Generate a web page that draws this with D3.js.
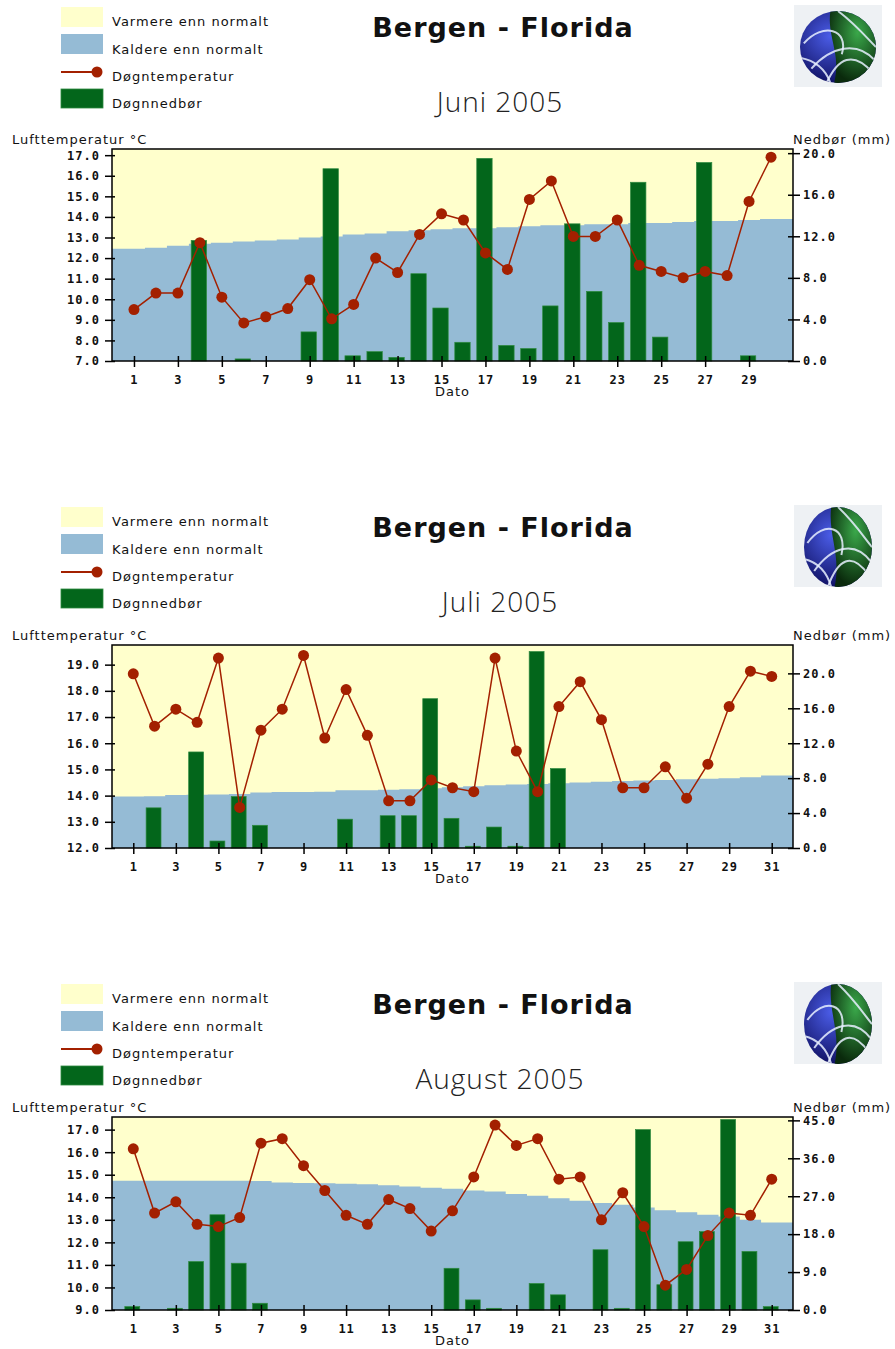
<!DOCTYPE html>
<meta charset="utf-8">
<style>
body { margin: 0; background: #fff; }
svg { display: block; }
.legend text { font-family: "DejaVu Sans", sans-serif; font-size: 13px; fill: #111; }
.axis text { font-family: "DejaVu Sans Mono", monospace; font-weight: bold; font-size: 12px; fill: #111; letter-spacing: 1px; }
.axis line { stroke: #000; stroke-width: 1.5px; }
.label { font-family: "DejaVu Sans", sans-serif; font-size: 13px; fill: #111; letter-spacing: 1px; }
</style>
<svg width="895" height="1349"></svg>
<script src="https://d3js.org/d3.v7.min.js"></script>
<script>

// Døgnverdier lest av bildet (dag 1..n)
var juniTemp = [9.5,10.3,10.3,12.75,10.1,8.85,9.15,9.55,10.95,9.05,9.75,12.0,11.3,13.15,14.15,
                13.85,12.25,11.45,14.85,15.75,13.05,13.05,13.85,11.65,11.35,11.05,11.35,11.15,14.75,16.9];
var juniNedbor = [0,0,0,11.6,0,0.2,0,0,2.8,18.5,0.5,0.9,0.35,8.4,5.1,
                  1.8,19.5,1.5,1.2,5.3,13.2,6.7,3.7,17.2,2.3,0,19.1,0,0.5,0];
var juniNormal = [12.45,12.5,12.6,12.7,12.75,12.8,12.85,12.9,13.0,13.05,13.15,13.2,13.3,13.35,13.4,
                  13.45,13.45,13.5,13.55,13.6,13.6,13.65,13.65,13.7,13.7,13.75,13.8,13.8,13.85,13.9];

var juliTemp = [18.65,16.65,17.3,16.8,19.25,13.55,16.5,17.3,19.35,16.2,18.05,16.3,13.8,13.8,14.6,14.3,
                14.15,19.25,15.7,14.15,17.4,18.35,16.9,14.3,14.3,15.1,13.9,15.2,17.4,18.75,18.55];
var juliNedbor = [0,4.6,0,11.0,0.8,5.9,2.6,0,0,0,3.3,0,3.7,3.7,17.1,3.4,
                  0.2,2.4,0.2,22.5,9.1,0,0,0,0,0,0,0,0,0,0];
var juliNormal = [13.97,13.98,14.02,14.03,14.04,14.06,14.12,14.14,14.14,14.15,14.2,14.2,14.22,14.24,14.28,14.32,
                  14.36,14.4,14.42,14.44,14.47,14.5,14.53,14.56,14.58,14.6,14.62,14.64,14.66,14.7,14.77];

var augustTemp = [16.15,13.3,13.8,12.8,12.7,13.1,16.4,16.6,15.4,14.3,13.2,12.8,13.9,13.5,12.5,13.4,
                  14.9,17.2,16.3,16.6,14.8,14.9,13.0,14.2,12.7,10.1,10.8,12.3,13.3,13.2,14.8];
var augustNedbor = [0.8,0,0.4,11.5,22.6,11.1,1.6,0,0,0,0,0,0,0,0,9.9,
                    2.4,0.4,0,6.3,3.6,0,14.3,0.4,42.8,6.0,16.2,18.6,45.2,13.9,0.8];
var augustNormal = [14.73,14.73,14.73,14.73,14.73,14.73,14.72,14.65,14.63,14.62,14.6,14.58,14.53,14.48,14.42,14.38,
                    14.3,14.26,14.15,14.07,13.96,13.85,13.75,13.67,13.55,13.42,13.33,13.23,13.15,13.0,12.88];

// aksemerker
var dagTicks = [1,3,5,7,9,11,13,15,17,19,21,23,25,27,29,31];
var juniTempTicks = [7,8,9,10,11,12,13,14,15,16,17];
var juniNedborTicks = [0,4,8,12,16,20];
var juliTempTicks = [12,13,14,15,16,17,18,19];
var juliNedborTicks = [0,4,8,12,16,20];
var augustTempTicks = [9,10,11,12,13,14,15,16,17];
var augustNedborTicks = [0,9,18,27,36,45];

var legendLabels = ["Varmere enn normalt", "Kaldere enn normalt", "Døgntemperatur", "Døgnnedbør"];

var colYellow = "#ffffcc", colBlue = "#95bbd5", colGreen = "#03661b", colRed = "#a32000";

var svg = d3.select("svg");
var defs = svg.append("defs");

var gBlue = defs.append("radialGradient").attr("id", "logoBlue").attr("cx", "40%").attr("cy", "35%").attr("r", "70%");
gBlue.append("stop").attr("offset", "0%").attr("stop-color", "#4b5de8");
gBlue.append("stop").attr("offset", "100%").attr("stop-color", "#0c0c5a");
var gGreen = defs.append("radialGradient").attr("id", "logoGreen").attr("cx", "60%").attr("cy", "30%").attr("r", "70%");
gGreen.append("stop").attr("offset", "0%").attr("stop-color", "#3aa84a");
gGreen.append("stop").attr("offset", "100%").attr("stop-color", "#0a2a0c");

var panels = [
  {title: "Juni 2005", temp: juniTemp, nedbor: juniNedbor, normal: juniNormal,
   tTicks: juniTempTicks, pTicks: juniNedborTicks, oy: 0, top: 149, bottom: 361, tMax: 17.3, pMax: 20.4,
   logo: {rx: 38, ry: 36}},
  {title: "Juli 2005", temp: juliTemp, nedbor: juliNedbor, normal: juliNormal,
   tTicks: juliTempTicks, pTicks: juliNedborTicks, oy: 500, top: 645, bottom: 848, tMax: 19.75, pMax: 23.25,
   logo: {rx: 34, ry: 40}},
  {title: "August 2005", temp: augustTemp, nedbor: augustNedbor, normal: augustNormal,
   tTicks: augustTempTicks, pTicks: augustNedborTicks, oy: 977, top: 1117, bottom: 1310, tMax: 17.56, pMax: 45.8,
   logo: {rx: 34, ry: 40}}
];

var left = 112, right = 793;

panels.forEach(function(p, pi) {
  var g = svg.append("g");
  var n = p.temp.length;
  var x = d3.scaleLinear().domain([0, n + 1]).range([left, right]);
  var yT = d3.scaleLinear().domain([p.tTicks[0], p.tMax]).range([p.bottom, p.top]);
  var yP = d3.scaleLinear().domain([0, p.pMax]).range([p.bottom, p.top]);
  var step = x(1) - x(0);

  // header
  var lg = g.append("g").attr("class", "legend").attr("transform", "translate(0," + p.oy + ")");
  lg.append("rect").attr("x", 61).attr("y", 7).attr("width", 42).attr("height", 20).attr("fill", colYellow);
  lg.append("rect").attr("x", 61).attr("y", 34).attr("width", 42).attr("height", 20).attr("fill", colBlue);
  lg.append("line").attr("x1", 61).attr("x2", 97).attr("y1", 72).attr("y2", 72)
    .attr("stroke", colRed).attr("stroke-width", 2);
  lg.append("circle").attr("cx", 97).attr("cy", 72).attr("r", 5.5).attr("fill", colRed);
  lg.append("rect").attr("x", 61).attr("y", 89).attr("width", 42).attr("height", 19)
    .attr("fill", colGreen).attr("stroke", "#2f8a40").attr("stroke-width", 0.8);
  lg.selectAll("text.lab").data(legendLabels).enter().append("text")
    .attr("x", 112).attr("y", function(d, i) { return [26, 54, 81, 108][i]; })
    .attr("letter-spacing", 1)
    .text(function(d) { return d; });

  g.append("text").attr("x", 503).attr("y", p.oy + 37).attr("text-anchor", "middle")
    .style("font-family", "'DejaVu Sans', sans-serif").style("font-weight", "bold").style("font-size", "27px")
    .attr("letter-spacing", 1).attr("fill", "#111").text("Bergen - Florida");
  g.append("text").attr("x", 500).attr("y", p.oy + 112).attr("text-anchor", "middle")
    .style("font-family", "'Open Sans', sans-serif").style("font-weight", 300).style("font-size", "28px")
    .attr("letter-spacing", 1).attr("fill", "#222").text(p.title);

  // logo
  var lx = 838, ly = p.oy + 47;
  g.append("rect").attr("x", 794).attr("y", p.oy + 5).attr("width", 88).attr("height", 82).attr("fill", "#eef1f4");
  var clipId = "logoClip" + pi;
  defs.append("clipPath").attr("id", clipId).append("ellipse")
    .attr("cx", lx).attr("cy", ly).attr("rx", p.logo.rx).attr("ry", p.logo.ry);
  var lgo = g.append("g").attr("clip-path", "url(#" + clipId + ")");
  var rx = p.logo.rx, ry = p.logo.ry;
  lgo.append("rect").attr("x", lx - rx).attr("y", ly - ry).attr("width", 2 * rx).attr("height", 2 * ry).attr("fill", "url(#logoBlue)");
  lgo.append("path").attr("fill", "url(#logoGreen)")
    .attr("d", "M" + (lx - 0.2 * rx) + "," + (ly - ry) +
      " C" + (lx - 0.3 * rx) + "," + (ly - 0.3 * ry) + " " + (lx + 0.1 * rx) + "," + (ly + 0.2 * ry) + " " + (lx - 0.1 * rx) + "," + (ly + ry) +
      " L" + (lx + rx) + "," + (ly + ry) + " L" + (lx + rx) + "," + (ly - ry) + "Z");
  var curves = [
    [[-0.9, -0.1], [-0.4, -0.7], [0.3, -0.5], [0.1, 0.2]],
    [[-0.7, 0.6], [-0.2, 0.0], [0.5, -0.2], [1.0, 0.4]],
    [[-0.3, 1.0], [0.0, 0.3], [0.4, 0.1], [0.9, 0.7]],
    [[0.0, -1.0], [0.5, -0.6], [0.8, -0.2], [1.0, 0.0]],
    [[-1.0, 0.3], [-0.5, 0.4], [-0.3, 0.7], [-0.2, 1.0]]
  ];
  curves.forEach(function(c) {
    var pt = function(q) { return (lx + q[0] * rx) + "," + (ly + q[1] * ry); };
    lgo.append("path").attr("fill", "none").attr("stroke", "#e8f0ff").attr("stroke-opacity", 0.85)
      .attr("stroke-width", 2).attr("d", "M" + pt(c[0]) + " C" + pt(c[1]) + " " + pt(c[2]) + " " + pt(c[3]));
  });

  // axis titles
  g.append("text").attr("class", "label").attr("x", 12).attr("y", p.top - 5).text("Lufttemperatur °C");
  g.append("text").attr("class", "label").attr("x", 793).attr("y", p.top - 5).text("Nedbør (mm)");
  g.append("text").attr("class", "label").attr("x", (left + right) / 2).attr("y", p.bottom + 35)
    .attr("text-anchor", "middle").text("Dato");

  // plot
  g.append("rect").attr("x", left).attr("y", p.top).attr("width", right - left).attr("height", p.bottom - p.top)
    .attr("fill", colYellow);

  var normPts = p.normal.map(function(v, i) { return {x: i === 0 ? 0 : i + 0.5, v: v}; });
  normPts.push({x: n + 1, v: p.normal[n - 1]});
  var area = d3.area().curve(d3.curveStepAfter)
    .x(function(d) { return x(d.x); })
    .y0(p.bottom)
    .y1(function(d) { return yT(d.v); });
  g.append("path").datum(normPts).attr("d", area).attr("fill", colBlue);

  var bw = step * 0.7;
  g.append("g").selectAll("rect").data(p.nedbor.map(function(v, i) { return {d: i + 1, v: v}; })
      .filter(function(d) { return d.v > 0; }))
    .enter().append("rect")
    .attr("x", function(d) { return x(d.d) - bw / 2 - 1; })
    .attr("width", bw)
    .attr("y", function(d) { return yP(d.v); })
    .attr("height", function(d) { return p.bottom - yP(d.v); })
    .attr("fill", colGreen).attr("stroke", "#2f8a40").attr("stroke-width", 0.7);

  var tempPts = p.temp.map(function(v, i) { return {d: i + 1, v: v}; });
  g.append("path").datum(tempPts)
    .attr("d", d3.line().x(function(d) { return x(d.d); }).y(function(d) { return yT(d.v); }))
    .attr("fill", "none").attr("stroke", colRed).attr("stroke-width", 1.5);
  g.append("g").selectAll("circle").data(tempPts).enter().append("circle")
    .attr("cx", function(d) { return x(d.d); }).attr("cy", function(d) { return yT(d.v); })
    .attr("r", 5.5).attr("fill", colRed);

  // axes
  var fmt = d3.format(".1f");
  var ax = g.append("g").attr("class", "axis").attr("transform", "translate(" + left + ",0)")
    .call(d3.axisLeft(yT).tickValues(p.tTicks).tickFormat(fmt).tickSize(7).tickPadding(5));
  ax.selectAll(".tick line").attr("x1", 3);
  var axr = g.append("g").attr("class", "axis").attr("transform", "translate(" + right + ",0)")
    .call(d3.axisRight(yP).tickValues(p.pTicks).tickFormat(fmt).tickSize(7).tickPadding(3));
  axr.selectAll(".tick line").attr("x1", -5);
  var axb = g.append("g").attr("class", "axis").attr("transform", "translate(0," + p.bottom + ")")
    .call(d3.axisBottom(x).tickValues(dagTicks.filter(function(d) { return d <= n; }))
      .tickFormat(d3.format("d")).tickSize(6).tickPadding(8));
  axb.selectAll(".tick line").attr("y1", -5);
  [ax, axr, axb].forEach(function(a) {
    a.select(".domain").remove();
    a.attr("font-family", null).attr("font-size", null);
  });

  g.append("rect").attr("x", left).attr("y", p.top).attr("width", right - left).attr("height", p.bottom - p.top)
    .attr("fill", "none").attr("stroke", "#000").attr("stroke-width", 1.5);
});

</script>
